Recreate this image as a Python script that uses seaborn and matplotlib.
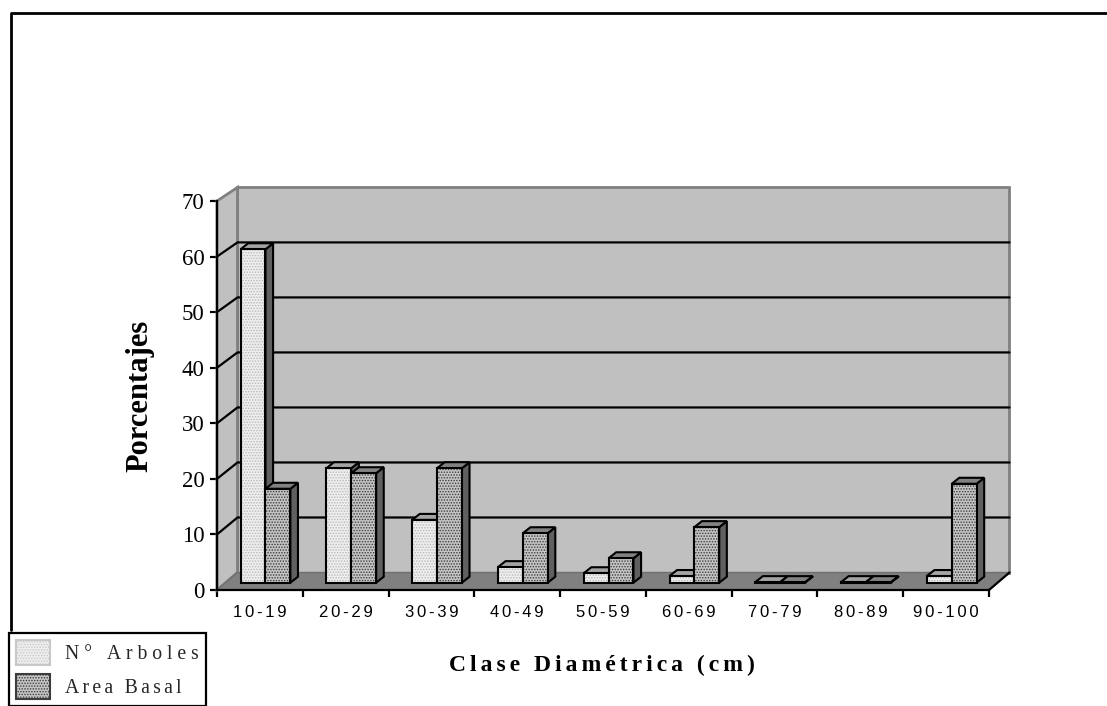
import pandas as pd
import seaborn as sns
import matplotlib
matplotlib.use('Agg')
import matplotlib.pyplot as plt
from matplotlib.lines import Line2D
from matplotlib.patches import Patch, Polygon, Rectangle

CLASSES = ["10-19", "20-29", "30-39", "40-49", "50-59", "60-69", "70-79", "80-89", "90-100"]
N_ARBOLES = [60.0, 20.6, 11.3, 2.8, 1.7, 1.2, 0.1, 0.1, 1.2]
AREA_BASAL = [16.9, 19.7, 20.6, 8.9, 4.4, 10.0, 0.1, 0.1, 17.8]
SERIES = ["N° Arboles", "Area Basal"]
YTICKS = [0, 10, 20, 30, 40, 50, 60, 70]

W, H = 1107, 706
AX_L, AX_R, AX_B, AX_T = 217, 989, 590, 201
PX_X = (AX_R - AX_L) / 9
PX_Y = (AX_B - AX_T) / 70

# fake 3D depth, data units
WALL_DX = 20.5 / PX_X
WALL_DY = 17.5 / PX_Y
BACK_SCALE = 0.99
BAR_DX = 5.6 / PX_X
BAR_DY = 7.3 / PX_Y
DEPTH_X = 7.6 / PX_X
DEPTH_Y = 6.0 / PX_Y

HAIR = "\u200a"
LIGHT = "#eeeeee"
DARK = "#c4c4c4"


def spaced(text, n=1):
    return (HAIR * n).join(text)


def fx(px):
    return px / W


def fy(px):
    return 1 - px / H


def back(v):
    return WALL_DY + v * BACK_SCALE


sns.set_theme(style="white")
plt.rcParams['font.family'] = ['Liberation Serif', 'DejaVu Sans']
plt.rcParams['hatch.linewidth'] = 0.7

df = pd.DataFrame({
    "clase": CLASSES * 2,
    "serie": [SERIES[0]] * 9 + [SERIES[1]] * 9,
    "valor": N_ARBOLES + AREA_BASAL,
})

fig = plt.figure(figsize=(W / 100, H / 100), dpi=100)
ax = fig.add_axes([fx(AX_L), fy(AX_B), (AX_R - AX_L) / W, (AX_B - AX_T) / H])

sns.barplot(data=df, x="clase", y="valor", hue="serie", order=CLASSES,
            palette=[LIGHT, DARK], saturation=1, width=0.58, gap=0,
            legend=False, ax=ax)

x0, x1 = -0.5, 8.5
ax.set_xlim(x0, x1)
ax.set_ylim(0, 70)

# walls and floor
wall = "#c0c0c0"
edge = "#808080"
ax.add_patch(Rectangle((x0 + WALL_DX, back(0)), x1 - x0, back(70) - back(0), fc=wall, ec=edge, lw=2, zorder=1, clip_on=False))
ax.add_patch(Polygon([(x0, 0), (x0 + WALL_DX, back(0)), (x0 + WALL_DX, back(70)), (x0, 70)],
                     fc=wall, ec=edge, lw=2, zorder=1, clip_on=False))
ax.add_patch(Polygon([(x0, 0), (x1, 0), (x1 + WALL_DX, back(0)), (x0 + WALL_DX, back(0))],
                     fc="#808080", ec="#707070", lw=1, zorder=1.2, clip_on=False))

for v in YTICKS[1:-1]:
    ax.plot([x0, x0 + WALL_DX, x1 + WALL_DX], [v, back(v), back(v)],
            color="black", lw=1.6, zorder=1.5, clip_on=False)

# bars, left to right so nearer faces cover the older ones
bars = sorted(ax.patches[:18], key=lambda b: b.get_x())
z = 3
for bar in bars:
    light = bar.get_facecolor()[0] > 0.9
    dots = "#b8b8b8" if light else "#3c3c3c"
    top_col = "#a4a4a4" if light else "#828282"
    bx0 = bar.get_x() + BAR_DX
    bx1 = bx0 + bar.get_width()
    by0 = BAR_DY
    by1 = by0 + bar.get_height()
    ax.add_patch(Polygon([(bx1, by0), (bx1 + DEPTH_X, by0 + DEPTH_Y), (bx1 + DEPTH_X, by1 + DEPTH_Y), (bx1, by1)],
                         fc="#606060", ec="black", lw=1.5, zorder=z, clip_on=False))
    ax.add_patch(Polygon([(bx0, by1), (bx1, by1), (bx1 + DEPTH_X, by1 + DEPTH_Y), (bx0 + DEPTH_X, by1 + DEPTH_Y)],
                         fc=top_col, ec="black", lw=1.5, zorder=z + 0.1, clip_on=False))
    bar.set_x(bx0)
    bar.set_y(by0)
    bar.set_edgecolor(dots)
    bar.set_linewidth(0)
    bar.set_hatch("......")
    bar.set_zorder(z + 0.2)
    bar.set_clip_on(False)
    ax.add_patch(Rectangle((bx0, by0), bar.get_width(), bar.get_height(), fill=False, ec="black", lw=1.5,
                           zorder=z + 0.3, clip_on=False))
    z += 1

# axes
sns.despine(ax=ax, top=True, right=True)
for side in ["left", "bottom"]:
    ax.spines[side].set_linewidth(1.6)
    ax.spines[side].set_color("black")
    ax.spines[side].set_zorder(2)
ax.plot([x1, x1 + WALL_DX], [0, back(0)], color="black", lw=1.6, zorder=1.6, clip_on=False)

ax.set_yticks(YTICKS)
ax.set_yticklabels([str(v) for v in YTICKS], fontsize=16.5, color="black")
ax.set_xticks(range(9))
ax.set_xticklabels([spaced(c, 2) for c in CLASSES], fontsize=12, family=['Liberation Sans', 'DejaVu Sans'], color="black")
ax.set_xticks([x0 + i for i in range(10)], minor=True)
ax.tick_params(axis="x", which="major", length=0, pad=11)
ax.tick_params(axis="x", which="minor", length=5, width=1.6, color="black", bottom=True)
ax.tick_params(axis="y", length=5, width=1.6, color="black", left=True, pad=4)

ax.set_xlabel(spaced("Clase Diamétrica (cm)", 2), fontsize=17, fontweight="bold", color="black")
ax.xaxis.set_label_coords((602 - AX_L) / (AX_R - AX_L), (AX_B - 665) / (AX_B - AX_T))
ax.xaxis.label.set_va("center")
ax.set_ylabel("Porcentajes", fontsize=22, fontweight="bold", color="black")
ax.yaxis.set_label_coords((140 - AX_L) / (AX_R - AX_L), (AX_B - 396) / (AX_B - AX_T))
ax.yaxis.label.set_va("center")

# outer frame
fig.add_artist(Line2D([fx(11), fx(11), 1], [fy(630), fy(13), fy(13)], color="black", lw=2))

handles = [Patch(fc=LIGHT, ec="#c8c8c8", hatch="......", lw=1.5),
           Patch(fc=DARK, ec="#3c3c3c", hatch="......", lw=1.5)]
leg = ax.legend(handles, [spaced(SERIES[0], 3), spaced(SERIES[1], 2)], loc="lower left",
                bbox_to_anchor=(fx(9), fy(706)), bbox_transform=fig.transFigure,
                fontsize=14.2, frameon=True, fancybox=False, framealpha=1, edgecolor="black",
                borderaxespad=0, borderpad=0.35, handlelength=1.75, handleheight=1.55,
                handletextpad=0.75, labelspacing=0.5)
leg.get_frame().set_linewidth(1.6)
leg.set_zorder(100)

fig.savefig("out.png", dpi=100, facecolor="white")
